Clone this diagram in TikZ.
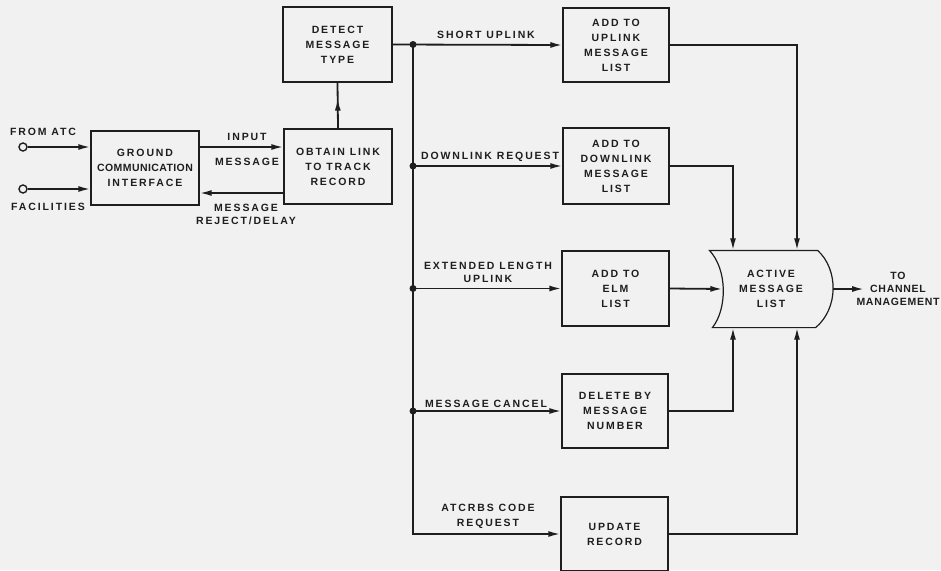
\documentclass[tikz,border=0pt]{standalone}
\usepackage{fontspec}
\newfontfamily\lbfont{Liberation Sans}[LetterSpace=18]
\usetikzlibrary{arrows.meta,decorations.markings,calc}
\definecolor{bg}{RGB}{241,241,241}
\definecolor{ink}{RGB}{30,30,30}
\newcommand\lbf{\lbfont\bfseries\fontsize{10.5}{15}\selectfont}
\newcommand\lbs{\lbfont\bfseries\fontsize{10.5}{13}\selectfont}
\tikzset{
  box/.style={draw=ink, line width=1.2pt, align=center, inner sep=0pt, font=\lbf, text=ink},
  conn/.style={draw=ink, line width=1.8pt},
  arr/.style={conn, -{Latex[length=12pt,width=6pt]}},
  midarrow/.style={conn, postaction={decorate}, decoration={markings,
      mark=at position 0.65 with {\arrow{Latex[length=12pt,width=6pt]}}}},
  lbl/.style={align=center, inner sep=0pt, font=\lbs, text=ink},
  jdot/.style={circle, fill=ink, inner sep=0pt, minimum size=7pt},
  port/.style={circle, draw=ink, line width=1.4pt, fill=bg, inner sep=0pt, minimum size=8pt},
}
\begin{document}
\begin{tikzpicture}[x=1pt,y=-1pt]
\fill[bg] (0,0) rectangle (941,570);
\useasboundingbox (0,0) rectangle (941,570);

% boxes
\node[box, minimum width=108pt, minimum height=74pt] (gci) at (145,168)
  {GROUND\\{\addfontfeature{LetterSpace=4}COMMUNICATION}\\INTERFACE};
\node[box, minimum width=108pt, minimum height=75pt] (obt) at (338,166.5)
  {OBTAIN LINK\\TO TRACK\\RECORD};
\node[box, minimum width=109pt, minimum height=75pt] (det) at (337.5,44.5)
  {DETECT\\MESSAGE\\TYPE};
\node[box, minimum width=106pt, minimum height=74pt] (up) at (616,45)
  {ADD TO\\UPLINK\\MESSAGE\\LIST};
\node[box, minimum width=106pt, minimum height=76pt] (dn) at (616,166)
  {ADD TO\\DOWNLINK\\MESSAGE\\LIST};
\node[box, minimum width=107pt, minimum height=75pt] (elm) at (615.5,288.5)
  {ADD TO\\ELM\\LIST};
\node[box, minimum width=106pt, minimum height=74pt] (del) at (615,411)
  {DELETE BY\\MESSAGE\\NUMBER};
\node[box, minimum width=107pt, minimum height=74pt] (upd) at (614.5,534)
  {UPDATE\\RECORD};

% active message list
\node[box, draw=none, minimum width=122pt, minimum height=76pt] (aml) at (771,289)
  {ACTIVE\\MESSAGE\\LIST};
\draw[draw=ink, line width=1.2pt]
  (aml.north west) .. controls +(18,19) and +(15,-19) .. ([xshift=3pt]aml.south west)
  -- ([xshift=-17pt]aml.south east) .. controls +(23,-19) and +(21,19) .. ([xshift=-15pt]aml.north east)
  -- cycle;

% helper coordinates
\coordinate (yin) at (0,147);
\coordinate (yrj) at (0,193);
\coordinate (bx) at (413,0);
\coordinate (c1) at (733,0);
\coordinate (c2) at (797,0);
\coordinate (amlin) at ($(aml.west)+(13,0)$);
\coordinate (outp) at (864,289);

% inputs
\node[port] (atc) at (23,147) {};
\node[port] (fac) at (23,189) {};
\draw[arr] (atc) -- (gci.west |- atc);
\draw[arr] (fac) -- (gci.west |- fac);
\node[lbl] (latc) at (43,132) {FROM ATC};
\node[lbl] (lfac) at (48,207) {FACILITIES};

% input / reject
\draw[arr] (gci.east |- yin) -- (obt.west |- yin);
\draw[arr] (obt.west |- yrj) -- (gci.east |- yrj);
\node[lbl] (lin1) at (247,137) {INPUT};
\node[lbl] (lin2) at (247,162) {MESSAGE};
\node[lbl] (lrj) at (246,214.5) {MESSAGE\\REJECT/DELAY};

% detect
\draw[midarrow] (obt.north) -- (det.south);

% bus
\coordinate (j1) at (bx |- det.east);
\draw[arr] (det.east) -- (up.west);
\draw[arr] (j1) |- (upd.west);
\draw[arr] (bx |- dn.west) -- (dn.west);
\draw[arr] (bx |- elm.west) -- (elm.west);
\draw[arr] (bx |- del.west) -- (del.west);
\node[jdot] (d1) at (j1) {};
\node[jdot] (d2) at (bx |- dn.west) {};
\node[jdot] (d3) at (bx |- elm.west) {};
\node[jdot] (d4) at (bx |- del.west) {};

\node[lbl] (l1) at (486,35) {SHORT UPLINK};
\node[lbl] (l2) at (490,157) {DOWNLINK REQUEST};
\node[lbl] (l3) at (488,272.5) {EXTENDED LENGTH\\UPLINK};
\node[lbl] (l4) at (486,404) {MESSAGE CANCEL};
\node[lbl, font=\lbf] (l5) at (488,516.5) {ATCRBS CODE\\REQUEST};

% into active message list
\draw[arr] (up.east) -| (c2 |- aml.north);
\draw[arr] (dn.east) -| (c1 |- aml.north);
\draw[arr] (elm.east) -- (amlin);
\draw[arr] (del.east) -| (c1 |- aml.south);
\draw[arr] (upd.east) -| (c2 |- aml.south);

% output
\draw[arr] (aml.east) -- (outp);
\node[lbl, font={\lbs\addfontfeature{LetterSpace=7}}] (lout) at (898,289) {TO\\CHANNEL\\MANAGEMENT};
\end{tikzpicture}
\end{document}
